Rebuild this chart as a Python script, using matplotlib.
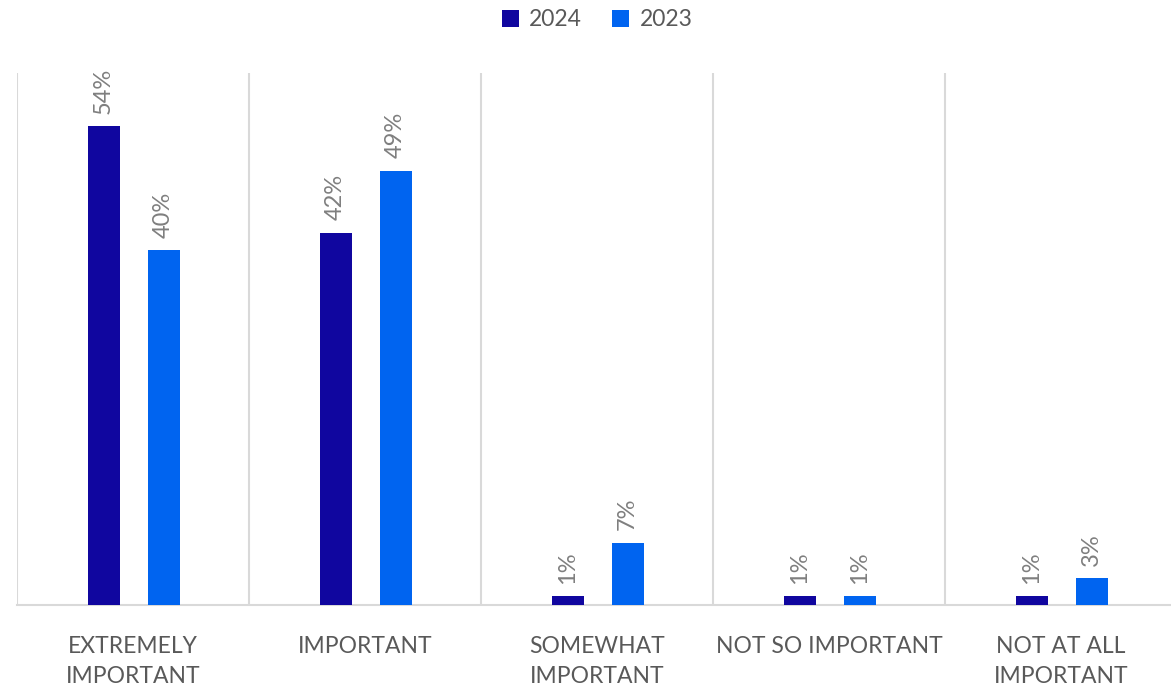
import numpy as np
import matplotlib
matplotlib.use("Agg")
import matplotlib.pyplot as plt

# importance ratings, share of respondents (%)
categories = ["EXTREMELY\nIMPORTANT", "IMPORTANT", "SOMEWHAT\nIMPORTANT",
              "NOT SO IMPORTANT", "NOT AT ALL\nIMPORTANT"]
years = ["2024", "2023"]
vals_2024 = [54, 42, 1, 1, 1]
vals_2023 = [40, 49, 7, 1, 3]

colors = {"2024": "#10069F", "2023": "#0064F0"}

plt.rcParams['font.family'] = ['Lato', 'DejaVu Sans']

fig = plt.figure(figsize=(11.71, 6.87), dpi=100)
ax = fig.add_axes([17 / 1171, 1 - 605 / 687, 1160 / 1171, 532 / 687])

x = np.arange(len(categories))
width = 0.138

for series, off, name in ((vals_2024, -0.127, years[0]), (vals_2023, 0.132, years[1])):
    bars = ax.bar(x + off, series, width=width, color=colors[name], label=name, zorder=3)
    for rect, v in zip(bars, series):
        ax.annotate(f"{v}%", (rect.get_x() + rect.get_width() / 2, rect.get_height()),
                    xytext=(0, 9), textcoords="offset points",
                    rotation=90, ha="center", va="bottom",
                    fontsize=17, color="#7F7F7F")

# separators between categories
for b in np.arange(-0.5, len(categories), 1.0):
    ax.axvline(b, color="#D9D9D9", lw=1.5, zorder=1)

ax.set_xlim(-0.5, len(categories) - 0.5)
ax.set_ylim(0, 60)
ax.set_yticks([])
ax.set_xticks(x)
ax.set_xticklabels(categories, fontsize=16.5, color="#595959", linespacing=1.55)
ax.tick_params(axis="x", length=0, pad=22)
for s in ("top", "left", "right"):
    ax.spines[s].set_visible(False)
ax.spines["bottom"].set_color("#D9D9D9")
ax.spines["bottom"].set_linewidth(1.5)

ax.legend(loc="center", bbox_to_anchor=(0.5, 1 + 53 / 532), ncol=2, frameon=False,
          fontsize=16.5, handlelength=0.75, handleheight=0.75, handletextpad=0.45,
          columnspacing=1.3, labelcolor="#595959")

fig.savefig("out.png", dpi=100)
